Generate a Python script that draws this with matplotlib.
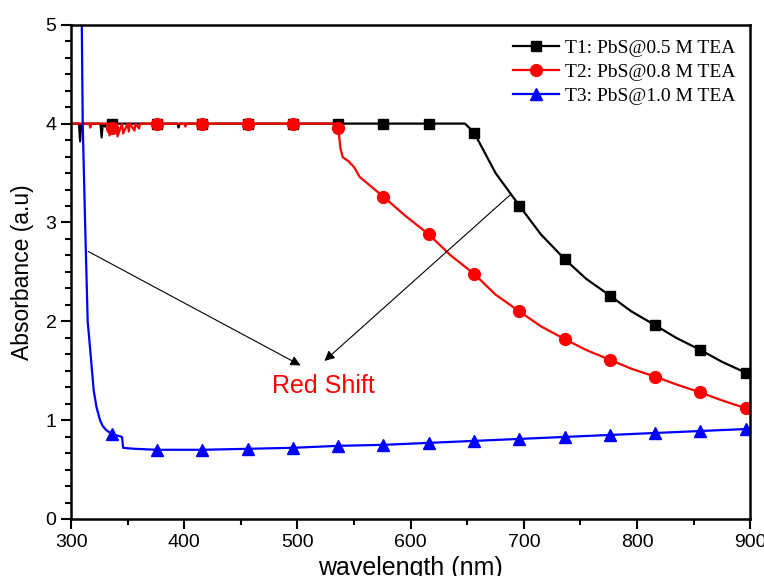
import numpy as np
import matplotlib.pyplot as plt
from matplotlib.ticker import MultipleLocator, AutoMinorLocator

plt.rcParams['font.family'] = ['Liberation Sans', 'DejaVu Sans']

# marker positions (nm), shared by all three curves
mark_wl = [336, 376, 416, 456, 496, 536, 576, 616, 656, 696, 736, 776, 816, 856, 896]

# T1: PbS@0.5 M TEA
t1_wl = [300, 307, 308, 309, 326, 327, 328, 330, 331, 336, 376, 394, 395, 396, 416, 456,
         496, 536, 576, 616, 648, 656, 675, 696, 715, 736, 755, 776, 795, 816, 835,
         856, 875, 896, 900]
t1_abs = [4.0, 4.0, 3.82, 4.0, 4.0, 3.86, 4.0, 3.97, 4.0, 4.0, 4.0, 4.0, 3.96, 4.0, 4.0, 4.0,
          4.0, 4.0, 4.0, 4.0, 4.0, 3.91, 3.50, 3.17, 2.88, 2.63, 2.43, 2.26, 2.10, 1.96, 1.83,
          1.71, 1.59, 1.48, 1.45]

# T2: PbS@0.8 M TEA
t2_wl = [300, 316, 317, 318, 333, 334, 335, 336, 340, 341, 345, 346, 350, 351, 352, 356,
         357, 360, 361, 376, 400, 401, 402, 416, 456, 496, 534, 536, 538, 540, 545, 550,
         555, 576, 595, 616, 635, 656, 675, 696, 715, 736, 755, 776, 795, 816, 835, 856,
         875, 896, 900]
t2_abs = [4.0, 4.0, 3.96, 4.0, 4.0, 3.88, 4.0, 3.96, 4.0, 3.87, 4.0, 3.90, 4.0, 3.92, 4.0,
          3.93, 4.0, 3.95, 4.0, 4.0, 4.0, 3.97, 4.0, 4.0, 4.0, 4.0, 4.0, 3.96, 3.75, 3.66,
          3.62, 3.56, 3.46, 3.26, 3.07, 2.88, 2.67, 2.48, 2.27, 2.10, 1.95, 1.82, 1.71, 1.61,
          1.52, 1.44, 1.36, 1.28, 1.20, 1.12, 1.10]

# T3: PbS@1.0 M TEA
t3_wl = [308, 309.5, 310.3, 312.4, 314.7, 317, 320, 322.5, 325.6, 328, 331, 336, 345, 346,
         356, 376, 416, 456, 496, 536, 576, 616, 656, 696, 736, 776, 816, 856, 896, 900]
t3_abs = [5.6, 5.0, 4.0, 3.0, 2.0, 1.7, 1.3, 1.13, 1.0, 0.94, 0.9, 0.86, 0.83, 0.72,
          0.71, 0.70, 0.70, 0.71, 0.72, 0.74, 0.75, 0.77, 0.79, 0.81, 0.83, 0.85, 0.87,
          0.89, 0.91, 0.91]

labels = ['T1: PbS@0.5 M TEA', 'T2: PbS@0.8 M TEA', 'T3: PbS@1.0 M TEA']

fig = plt.figure(figsize=(7.64, 5.76), dpi=100)
ax = fig.add_axes([0.093, 0.099, 0.889, 0.858])

series = [(t1_wl, t1_abs, 'black', 's', 7.5),
          (t2_wl, t2_abs, 'red', 'o', 8.5),
          (t3_wl, t3_abs, 'blue', '^', 9)]
for (wl, ab, col, mk, ms), lab in zip(series, labels):
    wl = np.array(wl)
    idx = list(np.where(np.isin(wl, mark_wl))[0])
    ax.plot(wl, ab, color=col, lw=1.6, marker=mk, markersize=ms, markevery=idx,
            label=lab)

ax.set_xlim(300, 900)
ax.set_ylim(0, 5)
ax.xaxis.set_major_locator(MultipleLocator(100))
ax.xaxis.set_minor_locator(MultipleLocator(50))
ax.yaxis.set_major_locator(MultipleLocator(1))
ax.yaxis.set_minor_locator(AutoMinorLocator(6))
ax.tick_params(which='both', direction='out', width=1.5, labelsize=14)
ax.tick_params(which='major', length=7)
ax.tick_params(which='minor', length=4)
ax.tick_params(top=False, right=False)
for s in ax.spines.values():
    s.set_linewidth(1.8)

ax.set_xlabel('wavelength (nm)', fontsize=18, labelpad=4)
ax.set_ylabel('Absorbance (a.u)', fontsize=16.5, labelpad=8)

ax.legend(loc='upper right', frameon=False, prop={'family': 'Liberation Serif', 'size': 14},
          handlelength=2.4, handletextpad=0.3, labelspacing=0.33,
          borderaxespad=0.35)

arrow = dict(arrowstyle='-|>', color='black', lw=0.8, mutation_scale=15)
ax.annotate('', xy=(505, 1.54), xytext=(313, 2.72), arrowprops=arrow)
ax.annotate('', xy=(522, 1.58), xytext=(690, 3.30), arrowprops=arrow)
ax.text(523, 1.35, 'Red Shift', color='red', fontsize=18, ha='center', va='center')

fig.savefig('out.png', dpi=100)
